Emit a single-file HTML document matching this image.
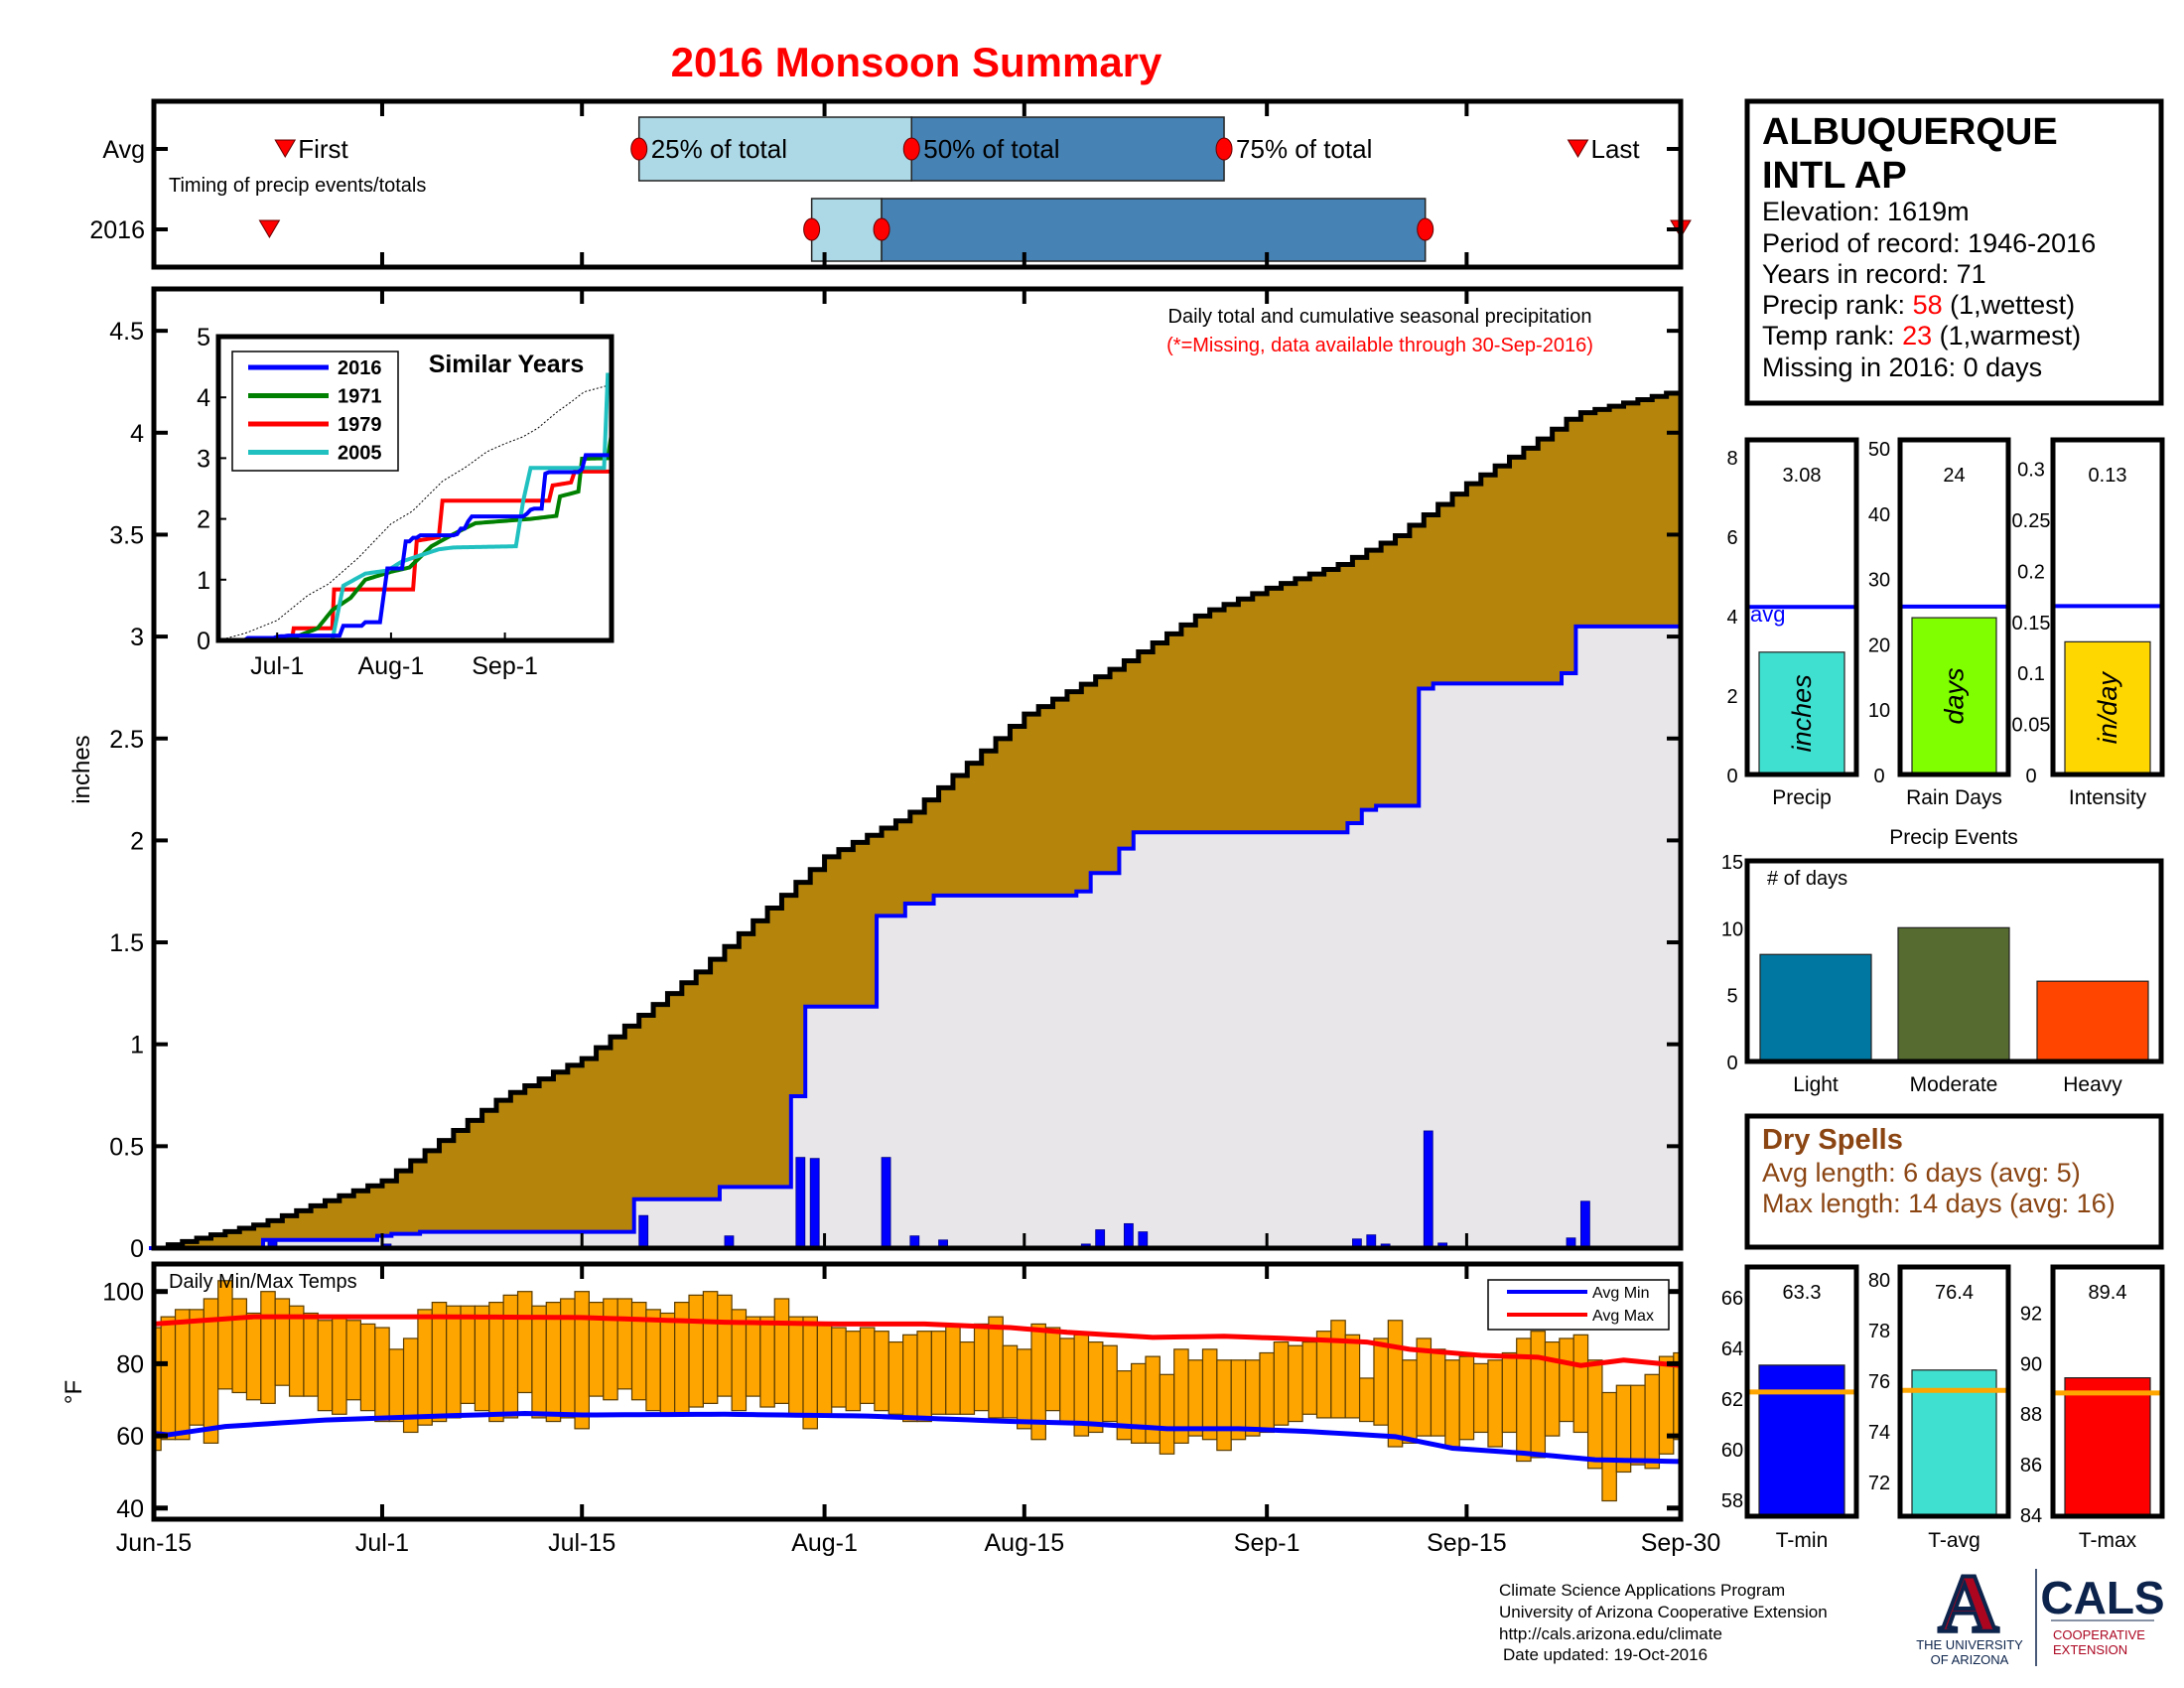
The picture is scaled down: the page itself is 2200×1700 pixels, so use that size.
<!DOCTYPE html>
<html><head><meta charset="utf-8"><title>2016 Monsoon Summary</title>
<style>
html,body{margin:0;padding:0;background:#fff;}
svg{display:block;font-family:"Liberation Sans",Arial,sans-serif;}
</style></head>
<body>
<svg id="chart" width="2200" height="1700" viewBox="0 0 2200 1700" xmlns="http://www.w3.org/2000/svg">
<rect x="0" y="0" width="2200" height="1700" fill="#fff"/>
<text x="923" y="77" text-anchor="middle" font-size="42" font-weight="bold" fill="#f00">2016 Monsoon Summary</text>

<g id="timing"></g>
<text x="146" y="159" text-anchor="end" font-size="25">Avg</text>
<text x="146" y="240" text-anchor="end" font-size="25">2016</text>
<text x="170" y="193" font-size="20">Timing of precip events/totals</text>

<g id="main"></g>
<text x="1390" y="325" text-anchor="middle" font-size="20">Daily total and cumulative seasonal precipitation</text>
<text x="1390" y="354" text-anchor="middle" font-size="20" fill="#f00">(*=Missing, data available through 30-Sep-2016)</text>
<text transform="translate(90,775) rotate(-90)" text-anchor="middle" font-size="24">inches</text>

<g id="inset"></g>

<g id="temp"></g>
<text x="170" y="1297" font-size="20">Daily Min/Max Temps</text>
<text transform="translate(82,1402) rotate(-90)" text-anchor="middle" font-size="24">°F</text>

<g>
<rect x="1760" y="102" width="417" height="304" fill="#fff" stroke="#000" stroke-width="5"/>
<text x="1775" y="145" font-size="38" font-weight="bold">ALBUQUERQUE</text>
<text x="1775" y="189" font-size="38" font-weight="bold">INTL AP</text>
<text x="1775" y="222" font-size="27">Elevation: 1619m</text>
<text x="1775" y="254" font-size="27">Period of record: 1946-2016</text>
<text x="1775" y="285" font-size="27">Years in record: 71</text>
<text x="1775" y="316" font-size="27">Precip rank: <tspan fill="#f00">58</tspan> (1,wettest)</text>
<text x="1775" y="347" font-size="27">Temp rank: <tspan fill="#f00">23</tspan> (1,warmest)</text>
<text x="1775" y="379" font-size="27">Missing in 2016: 0 days</text>
</g>

<g id="small"></g>
<text x="1968" y="850" text-anchor="middle" font-size="21">Precip Events</text>
<g id="events"></g>

<g>
<rect x="1760" y="1124" width="417" height="132" fill="#fff" stroke="#000" stroke-width="5"/>
<text x="1775" y="1157" font-size="29" font-weight="bold" fill="#8B4513">Dry Spells</text>
<text x="1775" y="1190" font-size="27" fill="#8B4513">Avg length: 6 days (avg: 5)</text>
<text x="1775" y="1221" font-size="27" fill="#8B4513">Max length: 14 days (avg: 16)</text>
</g>
<g id="tpanels"></g>

<g>
<text x="1510" y="1607" font-size="17">Climate Science Applications Program</text>
<text x="1510" y="1629" font-size="17">University of Arizona Cooperative Extension</text>
<text x="1510" y="1651" font-size="17">http://cals.arizona.edu/climate</text>
<text x="1514" y="1672" font-size="17">Date updated: 19-Oct-2016</text>
</g>
<g>
<text x="1983" y="1643" text-anchor="middle" font-family="Liberation Serif, serif" font-size="84" font-weight="bold" fill="#AB0520" stroke="#0C234B" stroke-width="4">A</text>
<text x="1984" y="1661" text-anchor="middle" font-size="13" fill="#0C234B">THE UNIVERSITY</text>
<text x="1984" y="1676" text-anchor="middle" font-size="13" fill="#0C234B">OF ARIZONA</text>
<line x1="2051" y1="1580" x2="2051" y2="1678" stroke="#0C234B" stroke-width="1.5"/>
<text x="2118" y="1625" text-anchor="middle" font-size="46" font-weight="bold" fill="#0C234B">CALS</text>
<line x1="2066" y1="1632" x2="2170" y2="1632" stroke="#0C234B" stroke-width="1"/>
<text x="2068" y="1651" font-size="13" fill="#AB0520">COOPERATIVE</text>
<text x="2068" y="1666" font-size="13" fill="#AB0520">EXTENSION</text>
</g>
</svg>
<script>
// ---------- data ----------
var dateTicks = [0,16,30,47,61,78,92,107];
var dateLabels = ['Jun-15','Jul-1','Jul-15','Aug-1','Aug-15','Sep-1','Sep-15','Sep-30'];
var precipTicks = [0,0.5,1,1.5,2,2.5,3,3.5,4,4.5];
var precipTickLabels = ['0','0.5','1','1.5','2','2.5','3','3.5','4','4.5'];
var rainDays = [8,16,17,19,34,40,45,46,51,53,55,65,66,68,69,84,85,86,89,90,99,100];
var rainAmts = [0.04,0.02,0.01,0.01,0.16,0.06,0.445,0.44,0.445,0.06,0.04,0.02,0.09,0.12,0.08,0.045,0.065,0.02,0.575,0.025,0.05,0.23];
var avgCumDays = [0,7.4,16,24.3,30,38.1,47,52.7,61,67.3,73.2,78.1,82.9,86.9,92,96.6,99.5,107];
var avgCumVals = [0,0.12,0.33,0.74,0.93,1.36,1.92,2.12,2.62,2.85,3.11,3.24,3.35,3.49,3.75,3.95,4.09,4.21];
var timingAvg = [9.2,34,53.1,75,99.8];
var timing2016 = [8.1,46.1,51,89.1,107];
var timingLabels = ['First','25% of total','50% of total','75% of total','Last'];
var tmax = [90,93,95,95,98,103,98,94,100,98,96,94,92,93,92,91,90,84,87,95,97,96,96,96,97,99,100,96,97,98,100,97,98,98,97,95,94,97,99,100,99,95,93,93,98,93,93,91,90,89,90,89,86,88,89,89,91,86,91,93,85,84,91,90,87,88,86,85,78,80,82,77,84,81,84,81,81,81,83,86,85,86,89,92,88,76,87,92,81,87,84,81,82,80,81,83,87,89,86,87,88,81,72,74,74,77,82,83];
var tmin = [56,59,59,63,58,73,72,70,69,74,71,71,67,66,70,67,64,64,61,63,64,65,69,67,64,65,72,65,64,65,62,71,70,73,70,67,66,66,68,69,71,67,71,68,69,66,62,66,68,67,69,67,66,64,64,66,66,66,67,65,65,62,59,67,64,60,61,64,59,58,58,55,58,60,59,56,59,60,61,63,64,66,65,65,65,64,63,57,58,60,60,57,59,61,57,61,53,54,60,64,61,51,42,50,52,51,55,59];
var avgMaxDays = [0,7,20,30,40,48,54,60,64,70,75,80,85,88,93,97,100,103,107];
var avgMaxVals = [91,93,93,92.8,91.5,91,91,90,88.7,87.3,87.6,86.9,86,84,82.3,81.8,79.5,81,79.5];
var avgMinDays = [0,1,5,12,20,26,30,40,50,54,60,65,71,76,81,87,91,96,101,107];
var avgMinVals = [60.7,60.3,62.6,64.4,65.5,66.2,65.8,66,65.5,64.9,64,63.5,62,62,61.2,59.8,56.6,55.2,53.4,52.9];
var tempTicks = [40,60,80,100];
var insetYearNames = ['2016','1971','1979','2005'];
var y1971Days = [0,18,22,27,31,36,40,47,52,58,64,70,85,92,93,98,99,106,107];
var y1971Vals = [0,0,0.08,0.2,0.5,0.7,1.0,1.13,1.2,1.55,1.75,1.93,2.0,2.05,2.37,2.45,2.99,3.0,3.39];
var y1979Days = [0,20,20.3,31,31.5,53,54,60,61,90,91,96,97,107];
var y1979Vals = [0,0,0.2,0.2,0.84,0.84,1.64,1.7,2.3,2.3,2.55,2.6,2.78,2.78];
var y2005Days = [0,31,32,34,37,40,46,50,55,60,64,81,83,85,105,106,107];
var y2005Vals = [0,0,0.3,0.9,1.0,1.1,1.15,1.3,1.4,1.5,1.53,1.55,2.3,2.84,2.84,4.37,4.37];
var insetTickLabels = ['Jul-1','Aug-1','Sep-1'];
var insetTickDays = [16,47,78];
var statNames = ['Precip','Rain Days','Intensity'];
var statValues = [3.08,24,0.13];
var statAvgs = [4.22,25.7,0.165];
var eventNames = ['Light','Moderate','Heavy'];
var eventCounts = [8,10,6];
var tempStatNames = ['T-min','T-avg','T-max'];
var tempStatValues = [63.3,76.4,89.4];
var tempStatAvgs = [62.24,75.6,88.8];

// ---------- helpers ----------
var NS = 'http://www.w3.org/2000/svg';
function mk(parent, tag, attrs, txt){
  var e = document.createElementNS(NS, tag);
  for (var k in attrs) e.setAttribute(k, attrs[k]);
  if (txt !== undefined) e.textContent = txt;
  parent.appendChild(e);
  return e;
}
function interp(ds, vs, d){
  if (d <= ds[0]) return vs[0];
  for (var i=1;i<ds.length;i++){ if (d <= ds[i]){ var t=(d-ds[i-1])/(ds[i]-ds[i-1]); return vs[i-1]+t*(vs[i]-vs[i-1]); } }
  return vs[vs.length-1];
}
var X0 = 155, X1 = 1693, NDAYS = 107;
function xD(d){ return X0 + d*(X1-X0)/NDAYS; }
function yP(v){ return 1257 - v*205.3; }
function yT(t){ return 1300.7 + (100-t)*3.635; }
function xI(d){ return 220 + d*3.7; }
function yI(v){ return 645 - v*61.2; }

var cum2016 = [], avgCum = [], c = 0;
for (var d=0; d<=NDAYS; d++){
  var idx = rainDays.indexOf(d);
  if (idx >= 0) c += rainAmts[idx];
  cum2016.push(c);
  avgCum.push(interp(avgCumDays, avgCumVals, d));
}
function stepPath(arr, xf, yf, off){
  var p = 'M' + xf(0) + ',' + yf(0);
  var prev = 0;
  for (var d=0; d<arr.length; d++){
    var xx = xf(d) + off;
    p += ' L' + xx + ',' + yf(prev) + ' L' + xx + ',' + yf(arr[d]);
    prev = arr[d];
  }
  p += ' L' + xf(NDAYS) + ',' + yf(prev);
  return p;
}

// ---------- timing panel ----------
var tg = document.getElementById('timing');
var el;
el = mk(tg,'rect',{x:X0,y:102,width:X1-X0,height:167,fill:'#fff',stroke:'none'});


function timingRow(vals, y0, h, yc, rowName, showLabels){
  var cols = ['#ADD8E6','#4682B4'];
  for (var i=0;i<2;i++){
    el = mk(tg,'rect',{x:xD(vals[i+1]),y:y0,width:xD(vals[i+2])-xD(vals[i+1]),height:h,fill:cols[i],stroke:'#222','stroke-width':1.5});
    
    
  }
  for (var j=1;j<=3;j++){
    el = mk(tg,'ellipse',{cx:xD(vals[j]),cy:yc,rx:8,ry:11,fill:'#f00',stroke:'#600','stroke-width':1});
    
    
    if (showLabels){
      el = mk(tg,'text',{x:xD(vals[j])+12,y:yc+9,'font-size':26}, timingLabels[j]);
      
      
    }
  }
  [0,4].forEach(function(j){
    var x = xD(vals[j]);
    el = mk(tg,'polygon',{points:(x-10)+','+(yc-9)+' '+(x+10)+','+(yc-9)+' '+x+','+(yc+8),fill:'#f00',stroke:'#600','stroke-width':1});
    
    
    if (showLabels){
      el = mk(tg,'text',{x:x+13,y:yc+9,'font-size':26}, timingLabels[j]);
      
      
    }
  });
}
timingRow(timingAvg,118,64,150,'avg',true);
timingRow(timing2016,200,63,231,'y2016',false);
for (var i=1;i<dateTicks.length-1;i++){
  var tx = xD(dateTicks[i]);
  el = mk(tg,'line',{x1:tx,y1:102,x2:tx,y2:117,stroke:'#000','stroke-width':4});
  
  
  el = mk(tg,'line',{x1:tx,y1:254,x2:tx,y2:269,stroke:'#000','stroke-width':4});
  
  
}
[150,231].forEach(function(yy){
  el = mk(tg,'line',{x1:X0,y1:yy,x2:X0+14,y2:yy,stroke:'#000','stroke-width':4});
  
  
  el = mk(tg,'line',{x1:X1-14,y1:yy,x2:X1,y2:yy,stroke:'#000','stroke-width':4});
  
  
});
el = mk(tg,'rect',{x:X0,y:102,width:X1-X0,height:167,fill:'none',stroke:'#000','stroke-width':5});



// ---------- main precip panel ----------
var mg = document.getElementById('main');
var avgP = stepPath(avgCum, xD, yP, 0);
var curP = stepPath(cum2016, xD, yP, -5);
el = mk(mg,'path',{d:avgP + ' L' + X1 + ',' + yP(0) + ' Z',fill:'#B5850B',stroke:'none'});


el = mk(mg,'path',{d:curP + ' L' + X1 + ',' + yP(0) + ' Z',fill:'#E8E6E8',stroke:'none'});


for (var k=0;k<rainDays.length;k++){
  var bh = rainAmts[k]*205.3;
  el = mk(mg,'rect',{x:xD(rainDays[k]),y:yP(0)-bh,width:9,height:bh,fill:'#0000FF',stroke:'#00008b','stroke-width':0.8});
  
  
}
el = mk(mg,'path',{d:avgP,fill:'none',stroke:'#000','stroke-width':5});


el = mk(mg,'path',{d:curP,fill:'none',stroke:'#0000FF','stroke-width':4});


for (var i2=0;i2<precipTicks.length;i2++){
  var ty = yP(precipTicks[i2]);
  el = mk(mg,'line',{x1:X0,y1:ty,x2:X0+14,y2:ty,stroke:'#000','stroke-width':4});
  
  
  el = mk(mg,'line',{x1:X1-14,y1:ty,x2:X1,y2:ty,stroke:'#000','stroke-width':4});
  
  
  el = mk(mg,'text',{x:145,y:ty+9,'text-anchor':'end','font-size':25}, precipTickLabels[i2]);
  
  
}
for (var i3=1;i3<dateTicks.length-1;i3++){
  var tx2 = xD(dateTicks[i3]);
  el = mk(mg,'line',{x1:tx2,y1:291,x2:tx2,y2:306,stroke:'#000','stroke-width':4});
  
  
  el = mk(mg,'line',{x1:tx2,y1:1242,x2:tx2,y2:1257,stroke:'#000','stroke-width':3});
  
  
}
el = mk(mg,'rect',{x:X0,y:291,width:X1-X0,height:966,fill:'none',stroke:'#000','stroke-width':5});



// ---------- inset ----------
var ig = document.getElementById('inset');
el = mk(ig,'rect',{x:220,y:339,width:396,height:306,fill:'#fff',stroke:'none'});


var ip = '';
for (var d2=0; d2<=NDAYS; d2++) ip += (d2?' L':'M') + xI(d2) + ',' + yI(avgCum[d2]);
el = mk(ig,'path',{d:ip,fill:'none',stroke:'#000','stroke-width':1,'stroke-dasharray':'2,2'});


function knotPath(ds, vs){
  var p='';
  for (var d=0; d<=NDAYS; d+=0.5) p += (d?' L':'M') + xI(d) + ',' + yI(interp(ds,vs,d));
  return p;
}
var seriesPaths = [
  [cum2016.map(function(v,i){return i;}), cum2016, '#0000FF'],
  [y1971Days, y1971Vals, '#008000'],
  [y1979Days, y1979Vals, '#FF0000'],
  [y2005Days, y2005Vals, '#20C0C0']
];
var order = [2,1,3,0];
order.forEach(function(s){
  el = mk(ig,'path',{d:knotPath(seriesPaths[s][0], seriesPaths[s][1]),fill:'none',stroke:seriesPaths[s][2],'stroke-width':4});
  
  
});
for (var v=0; v<=5; v++){
  el = mk(ig,'text',{x:212,y:yI(v)+9,'text-anchor':'end','font-size':25}, String(v));
  
  
  el = mk(ig,'line',{x1:220,y1:yI(v),x2:228,y2:yI(v),stroke:'#000','stroke-width':2});
  
  
}
for (var q=0;q<insetTickDays.length;q++){
  el = mk(ig,'text',{x:xI(insetTickDays[q]),y:679,'text-anchor':'middle','font-size':25}, insetTickLabels[q]);
  
  
  el = mk(ig,'line',{x1:xI(insetTickDays[q]),y1:637,x2:xI(insetTickDays[q]),y2:645,stroke:'#000','stroke-width':2});
  
  
}
el = mk(ig,'rect',{x:220,y:339,width:396,height:306,fill:'none',stroke:'#000','stroke-width':5});


el = mk(ig,'rect',{x:234,y:354,width:167,height:120,fill:'#fff',stroke:'#000','stroke-width':1.5});


var legCols = ['#0000FF','#008000','#FF0000','#20C0C0'];
for (var L=0; L<4; L++){
  var ly = 370 + L*28.5;
  el = mk(ig,'line',{x1:250,y1:ly,x2:331,y2:ly,stroke:legCols[L],'stroke-width':5});
  
  
  el = mk(ig,'text',{x:340,y:ly+7,'font-size':20,'font-weight':'bold'}, insetYearNames[L]);
  
  
}
el = mk(ig,'text',{x:510,y:375,'text-anchor':'middle','font-size':25,'font-weight':'bold'}, 'Similar Years');



// ---------- temperature panel ----------
var tgp = document.getElementById('temp');
var bw = (X1-X0)/NDAYS;
var clip = mk(tgp,'clipPath',{id:'tclip'});
el = mk(clip,'rect',{x:X0,y:1273,width:X1-X0,height:257});


var bars = mk(tgp,'g',{'clip-path':'url(#tclip)'});


for (var t=0;t<tmax.length;t++){
  el = mk(bars,'rect',{x:xD(t)-bw/2,y:yT(tmax[t]),width:bw,height:yT(tmin[t])-yT(tmax[t]),fill:'#FFA500',stroke:'#5a3c00','stroke-width':1.2});
  
  
}
var pmx='', pmn='';
for (var d3=0; d3<=NDAYS; d3++){
  pmx += (d3?' L':'M') + xD(d3) + ',' + yT(interp(avgMaxDays,avgMaxVals,d3));
  pmn += (d3?' L':'M') + xD(d3) + ',' + yT(interp(avgMinDays,avgMinVals,d3));
}
el = mk(bars,'path',{d:pmx,fill:'none',stroke:'#FF0000','stroke-width':5});


el = mk(bars,'path',{d:pmn,fill:'none',stroke:'#0000FF','stroke-width':5});


for (var u=0;u<tempTicks.length;u++){
  var tty = yT(tempTicks[u]);
  el = mk(tgp,'line',{x1:X0,y1:tty,x2:X0+14,y2:tty,stroke:'#000','stroke-width':5});
  
  
  el = mk(tgp,'line',{x1:X1-14,y1:tty,x2:X1,y2:tty,stroke:'#000','stroke-width':5});
  
  
  el = mk(tgp,'text',{x:145,y:tty+9,'text-anchor':'end','font-size':25}, String(tempTicks[u]));
  
  
}
for (var w=0; w<dateTicks.length; w++){
  var tx3 = xD(dateTicks[w]);
  if (w>0 && w<dateTicks.length-1){
    el = mk(tgp,'line',{x1:tx3,y1:1273,x2:tx3,y2:1288,stroke:'#000','stroke-width':4});
    
    
    el = mk(tgp,'line',{x1:tx3,y1:1515,x2:tx3,y2:1530,stroke:'#000','stroke-width':4});
    
    
  }
  el = mk(tgp,'text',{x:tx3,y:1562,'text-anchor':'middle','font-size':25}, dateLabels[w]);
  
  
}
el = mk(tgp,'rect',{x:X0,y:1273,width:X1-X0,height:257,fill:'none',stroke:'#000','stroke-width':5});


el = mk(tgp,'rect',{x:1499,y:1289,width:182,height:50,fill:'#fff',stroke:'#000','stroke-width':1.5});


el = mk(tgp,'line',{x1:1518,y1:1301,x2:1599,y2:1301,stroke:'#0000FF','stroke-width':4});


el = mk(tgp,'text',{x:1604,y:1307,'font-size':16}, 'Avg Min');


el = mk(tgp,'line',{x1:1518,y1:1324,x2:1599,y2:1324,stroke:'#FF0000','stroke-width':4});


el = mk(tgp,'text',{x:1604,y:1330,'font-size':16}, 'Avg Max');



// ---------- small stat panels ----------
var sg = document.getElementById('small');
var sx = [1760,1914,2068];
var sw = [110,109,110];
var sPx = [40,6.58,1028];
var sTicks = [[0,2,4,6,8],[0,10,20,30,40,50],[0,0.05,0.1,0.15,0.2,0.25,0.3]];
var sTickLbl = [['0','2','4','6','8'],['0','10','20','30','40','50'],['0','0.05','0.1','0.15','0.2','0.25','0.3']];
var sCols = ['#40E0D0','#7FFF00','#FFD700'];
var sUnits = ['inches','days','in/day'];
var sLblX = [1745,1893,2046];
var sValTxt = ['3.08','24','0.13'];
for (var s=0;s<3;s++){
  var ys = function(v){ return 780 - v*sPx[s]; };
  el = mk(sg,'rect',{x:sx[s],y:443,width:sw[s],height:337,fill:'#fff',stroke:'none'});
  
  
  var by = ys(statValues[s]);
  el = mk(sg,'rect',{x:sx[s]+12,y:by,width:sw[s]-24,height:780-by,fill:sCols[s],stroke:'#222','stroke-width':1.2});
  
  
  el = mk(sg,'text',{transform:'translate('+(sx[s]+sw[s]/2+9)+','+(by+(780-by)/2)+') rotate(-90)','text-anchor':'middle','font-size':27,'font-style':'italic'}, sUnits[s]);
  
  
  var ay = ys(statAvgs[s]);
  el = mk(sg,'line',{x1:sx[s],y1:ay,x2:sx[s]+sw[s],y2:ay,stroke:'#0000FF','stroke-width':4});
  
  
  el = mk(sg,'text',{x:sx[s]+sw[s]/2,y:485,'text-anchor':'middle','font-size':20}, sValTxt[s]);
  
  
  for (var tk=0; tk<sTicks[s].length; tk++){
    el = mk(sg,'text',{x:sLblX[s],y:ys(sTicks[s][tk])+8,'text-anchor':'middle','font-size':20}, sTickLbl[s][tk]);
    
    
  }
  el = mk(sg,'rect',{x:sx[s],y:443,width:sw[s],height:337,fill:'none',stroke:'#000','stroke-width':5});
  
  
  el = mk(sg,'text',{x:sx[s]+sw[s]/2,y:810,'text-anchor':'middle','font-size':21}, statNames[s]);
  
  
}
el = mk(sg,'text',{x:1763,y:626,'font-size':22,fill:'#0000FF'}, 'avg');



// ---------- precip events ----------
var eg = document.getElementById('events');
function yE(v){ return 1069 - v*13.47; }
var eX = [1773,1912,2052];
var eCols = ['#0077A0','#556B2F','#FF4500'];
el = mk(eg,'rect',{x:1760,y:867,width:417,height:202,fill:'#fff',stroke:'none'});


for (var e=0;e<3;e++){
  el = mk(eg,'rect',{x:eX[e],y:yE(eventCounts[e]),width:112,height:1069-yE(eventCounts[e]),fill:eCols[e],stroke:'#222','stroke-width':1.2});
  
  
  el = mk(eg,'text',{x:eX[e]+56,y:1099,'text-anchor':'middle','font-size':21}, eventNames[e]);
  
  
}
[0,5,10,15].forEach(function(v){
  el = mk(eg,'text',{x:1745,y:yE(v)+8,'text-anchor':'middle','font-size':20}, String(v));
  
  
});
el = mk(eg,'rect',{x:1760,y:867,width:417,height:202,fill:'none',stroke:'#000','stroke-width':5});


el = mk(eg,'text',{x:1780,y:891,'font-size':20}, '# of days');



// ---------- temperature stat panels ----------
var tpg = document.getElementById('tpanels');
var tBase = [58,72,84];
var tBaseY = [1510,1492,1525];
var tPx = [25.5,25.5,25.44];
var tTicks = [[58,60,62,64,66],[72,74,76,78,80],[84,86,88,90,92]];
var tCols = ['#0000FF','#40E0D0','#FF0000'];
var tValTxt = ['63.3','76.4','89.4'];
for (var p=0;p<3;p++){
  var yt = function(v){ return tBaseY[p] - (v - tBase[p])*tPx[p]; };
  el = mk(tpg,'rect',{x:sx[p],y:1276,width:sw[p],height:251,fill:'#fff',stroke:'none'});
  
  
  var tby = yt(tempStatValues[p]);
  el = mk(tpg,'rect',{x:sx[p]+12,y:tby,width:sw[p]-24,height:1527-tby,fill:tCols[p],stroke:'#222','stroke-width':1.2});
  
  
  el = mk(tpg,'line',{x1:sx[p],y1:yt(tempStatAvgs[p]),x2:sx[p]+sw[p],y2:yt(tempStatAvgs[p]),stroke:'#FFA500','stroke-width':5});
  
  
  el = mk(tpg,'text',{x:sx[p]+sw[p]/2,y:1308,'text-anchor':'middle','font-size':20}, tValTxt[p]);
  
  
  for (var q2=0;q2<tTicks[p].length;q2++){
    el = mk(tpg,'text',{x:sLblX[p],y:yt(tTicks[p][q2])+8,'text-anchor':'middle','font-size':20}, String(tTicks[p][q2]));
    
    
  }
  el = mk(tpg,'rect',{x:sx[p],y:1276,width:sw[p],height:251,fill:'none',stroke:'#000','stroke-width':5});
  
  
  el = mk(tpg,'text',{x:sx[p]+sw[p]/2,y:1558,'text-anchor':'middle','font-size':21}, tempStatNames[p]);
  
  
}
</script>
</body></html>
